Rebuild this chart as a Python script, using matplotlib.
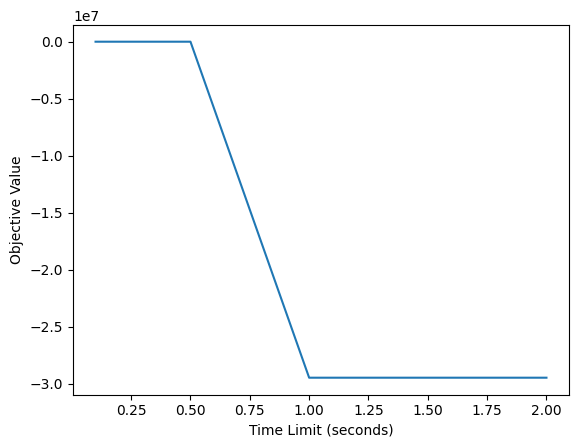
import matplotlib
matplotlib.use('Agg')
import matplotlib.pyplot as plt

# time limits and objective values
time_limits = [0.1, 0.5, 1.0, 1.5, 2.0]
objective = [0.0, 0.0, -2.945e7, -2.945e7, -2.945e7]

fig = plt.figure(figsize=(5.78, 4.48), dpi=100)
ax = fig.add_axes([73 / 578, (448 - 394.5) / 448, 496 / 578, 369.6 / 448])
ax.plot(time_limits, objective)
ax.set_xlabel('Time Limit (seconds)')
ax.set_ylabel('Objective Value')
fig.savefig('out.png', dpi=100)
